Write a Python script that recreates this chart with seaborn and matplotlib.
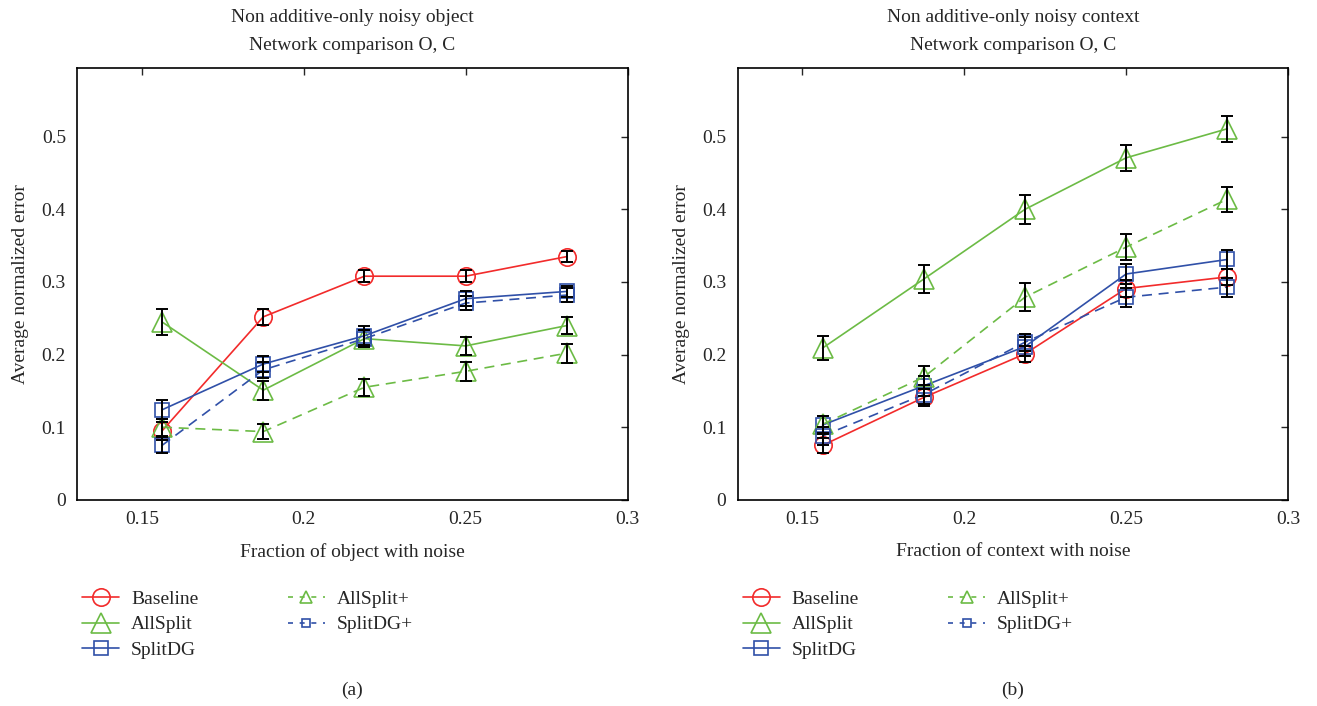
import numpy as np
import pandas as pd
import matplotlib
matplotlib.use("Agg")
import matplotlib.pyplot as plt
from matplotlib.lines import Line2D
import seaborn as sns

# noise fractions (5/32 ... 9/32)
fractions = [0.15625, 0.1875, 0.21875, 0.25, 0.28125]
series_names = ['Baseline', 'AllSplit', 'SplitDG', 'AllSplit+', 'SplitDG+']

# (a) noisy object
obj_baseline = [0.095, 0.252, 0.308, 0.308, 0.335]
obj_allsplit = [0.245, 0.151, 0.222, 0.212, 0.240]
obj_splitdg = [0.124, 0.187, 0.226, 0.277, 0.287]
obj_allsplit_p = [0.100, 0.094, 0.155, 0.177, 0.202]
obj_splitdg_p = [0.075, 0.179, 0.222, 0.271, 0.282]

obj_baseline_err = [0.012, 0.011, 0.008, 0.008, 0.007]
obj_allsplit_err = [0.018, 0.013, 0.012, 0.012, 0.012]
obj_splitdg_err = [0.013, 0.011, 0.013, 0.010, 0.008]
obj_allsplit_p_err = [0.012, 0.010, 0.012, 0.013, 0.013]
obj_splitdg_p_err = [0.011, 0.011, 0.012, 0.010, 0.010]

# (b) noisy context
ctx_baseline = [0.075, 0.141, 0.201, 0.291, 0.307]
ctx_allsplit = [0.209, 0.304, 0.400, 0.471, 0.511]
ctx_splitdg = [0.103, 0.157, 0.211, 0.311, 0.331]
ctx_allsplit_p = [0.104, 0.169, 0.279, 0.348, 0.414]
ctx_splitdg_p = [0.088, 0.145, 0.217, 0.279, 0.293]

ctx_baseline_err = [0.010, 0.012, 0.011, 0.012, 0.011]
ctx_allsplit_err = [0.017, 0.019, 0.020, 0.018, 0.018]
ctx_splitdg_err = [0.013, 0.014, 0.013, 0.014, 0.013]
ctx_allsplit_p_err = [0.012, 0.016, 0.019, 0.018, 0.017]
ctx_splitdg_p_err = [0.012, 0.013, 0.012, 0.013, 0.013]

titles = ['Non additive-only noisy object\nNetwork comparison O, C',
          'Non additive-only noisy context\nNetwork comparison O, C']
xlabels = ['Fraction of object with noise', 'Fraction of context with noise']
sublabels = ['(a)', '(b)']

red = '#f22b2b'
green = '#6cbb45'
blue = '#3050a8'
styles = {
    'Baseline': dict(color=red, ls='-', marker='o', ms=12.5),
    'AllSplit': dict(color=green, ls='-', marker='^', ms=15),
    'SplitDG': dict(color=blue, ls='-', marker='s', ms=10),
    'AllSplit+': dict(color=green, ls=(0, (6, 4)), marker='^', ms=15),
    'SplitDG+': dict(color=blue, ls=(0, (6, 4)), marker='s', ms=10),
}

panels = [
    dict(zip(series_names, [obj_baseline, obj_allsplit, obj_splitdg, obj_allsplit_p, obj_splitdg_p])),
    dict(zip(series_names, [ctx_baseline, ctx_allsplit, ctx_splitdg, ctx_allsplit_p, ctx_splitdg_p])),
]
errors = [
    dict(zip(series_names, [obj_baseline_err, obj_allsplit_err, obj_splitdg_err, obj_allsplit_p_err, obj_splitdg_p_err])),
    dict(zip(series_names, [ctx_baseline_err, ctx_allsplit_err, ctx_splitdg_err, ctx_allsplit_p_err, ctx_splitdg_p_err])),
]

sns.set_style('white')
plt.rcParams['font.family'] = ['Liberation Serif', 'DejaVu Serif']
fs = 14

fig = plt.figure(figsize=(13.17, 7.06), dpi=100)
ax_lefts = [0.0585, 0.560]

for i in range(2):
    ax = fig.add_axes([ax_lefts[i], 0.292, 0.418, 0.612])
    for name in series_names:
        st = styles[name]
        df = pd.DataFrame({'x': fractions, 'y': panels[i][name]})
        sns.lineplot(data=df, x='x', y='y', ax=ax, color=st['color'], linestyle=st['ls'],
                     marker=st['marker'], markersize=st['ms'], markerfacecolor='none',
                     markeredgecolor=st['color'], markeredgewidth=1.2, linewidth=1.2,
                     zorder=2)
    for name in series_names:
        ax.errorbar(fractions, panels[i][name], yerr=errors[i][name], fmt='none',
                    ecolor='black', elinewidth=1.4, capsize=4, capthick=1.4, zorder=3)

    ax.set_xlim(0.13, 0.3)
    ax.set_ylim(0, 0.595)
    ax.set_xticks([0.15, 0.2, 0.25, 0.3])
    ax.set_xticklabels(['0.15', '0.2', '0.25', '0.3'])
    ax.set_yticks([0, 0.1, 0.2, 0.3, 0.4, 0.5])
    ax.set_yticklabels(['0', '0.1', '0.2', '0.3', '0.4', '0.5'])
    ax.tick_params(direction='in', top=True, right=True, length=5, width=1,
                   labelsize=fs, pad=8)
    for sp in ax.spines.values():
        sp.set_color('black')
        sp.set_linewidth(1.2)
    ax.set_title(titles[i], fontsize=fs, linespacing=1.85, pad=13)
    ax.set_xlabel(xlabels[i], fontsize=fs, labelpad=11)
    ax.set_ylabel('Average normalized error', fontsize=fs, labelpad=9)

    handles = []
    for name in series_names:
        st = styles[name]
        small = name.endswith('+')
        handles.append(Line2D([], [], color=st['color'],
                              linestyle=(0, (3, 4)) if small else '-',
                              marker=st['marker'],
                              markersize=st['ms'] * (0.6 if small else 1.0),
                              markerfacecolor='none', markeredgecolor=st['color'],
                              markeredgewidth=1.2, linewidth=1.2))
    ax.legend(handles, series_names, loc='upper left', bbox_to_anchor=(-0.022, -0.168),
              ncol=2, frameon=False, fontsize=fs, handlelength=1.9,
              columnspacing=4.6, labelspacing=0.42, handletextpad=0.6)
    ax.text(0.5, -0.44, sublabels[i], transform=ax.transAxes, ha='center',
            va='center', fontsize=fs)

fig.savefig('out.png', dpi=100)
